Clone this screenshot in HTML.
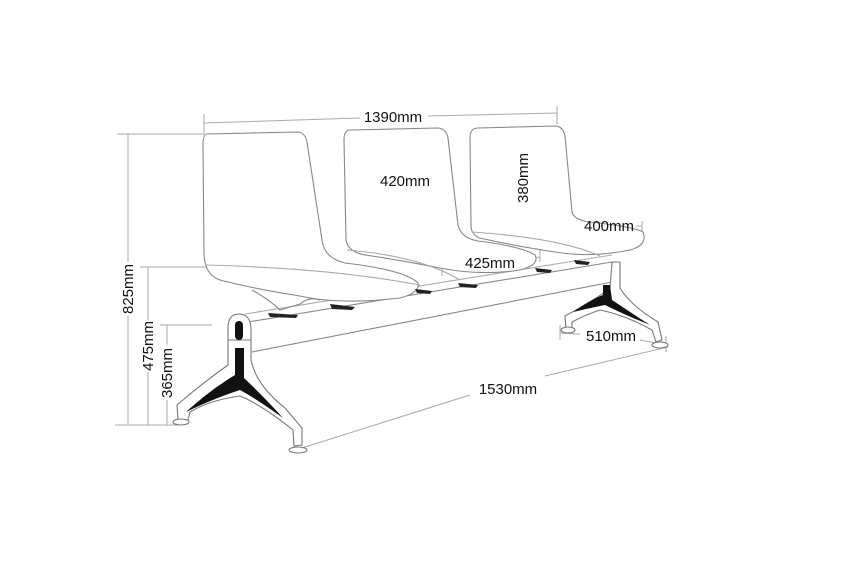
<!DOCTYPE html>
<html><head><meta charset="utf-8"><style>
html,body{margin:0;padding:0;background:#fff;}
svg{display:block;}
text{font-family:"Liberation Sans",sans-serif;font-size:15px;fill:#111;}
</style></head><body>
<svg width="850" height="564" viewBox="0 0 850 564" xmlns="http://www.w3.org/2000/svg">
<g fill="none" stroke="#aaa" stroke-width="1">
<line x1="204" y1="123" x2="360" y2="118"/><line x1="428" y1="116" x2="557" y2="113"/>
<line x1="204" y1="114" x2="204" y2="134"/><line x1="557" y1="106" x2="557" y2="124"/>
<line x1="117" y1="134" x2="204" y2="134"/>
<line x1="128" y1="134" x2="128" y2="262"/><line x1="128" y1="316" x2="128" y2="425"/>
<line x1="140" y1="267" x2="206" y2="267"/>
<line x1="148" y1="267" x2="148" y2="320"/><line x1="148" y1="372" x2="148" y2="425"/>
<line x1="160" y1="325" x2="212" y2="325"/>
<line x1="167" y1="325" x2="167" y2="345"/><line x1="167" y1="400" x2="167" y2="425"/>
<line x1="115" y1="425" x2="178" y2="425"/>
<line x1="350" y1="180" x2="376" y2="180"/><line x1="434" y1="180" x2="450" y2="180"/>
<line x1="519" y1="128" x2="528" y2="128"/><line x1="523" y1="128" x2="523" y2="150"/><line x1="523" y1="205" x2="523" y2="231"/><line x1="518" y1="231" x2="535" y2="231"/>
<line x1="572" y1="226" x2="580" y2="226"/><line x1="636" y1="226" x2="642" y2="226"/>
<line x1="572" y1="218" x2="572" y2="230"/><line x1="642" y1="221" x2="642" y2="235"/>
<line x1="442" y1="266" x2="460" y2="265"/><line x1="520" y1="259" x2="540" y2="257"/>
<line x1="442" y1="257" x2="442" y2="276"/><line x1="540" y1="245" x2="540" y2="262"/>
<line x1="560" y1="333" x2="580" y2="334"/><line x1="640" y1="340" x2="666" y2="345"/>
<line x1="560" y1="325" x2="560" y2="340"/><line x1="666" y1="336" x2="666" y2="352"/>
<line x1="302" y1="448" x2="470" y2="395"/><line x1="545" y1="376" x2="668" y2="347"/>
</g>
<g fill="#fff" stroke="#888" stroke-width="1.1">
<path d="M248,322 L612,262 M252,352 L612,282" fill="none"/>
<path d="M245,314 L612,255" fill="none" stroke="#aaa"/>
<path d="M478,128 L555,126 Q563,126 565,136 L572,212 Q574,220 590,222 Q635,227 643,232 Q648,245 630,250 Q590,258 555,252 Q510,245 480,238 Q471,235 471,225 L470,138 Q470,128 478,128 Z"/>
<path d="M472,232 Q560,238 600,256" fill="none" stroke="#aaa"/>
<path d="M350,130 L437,128 Q446,128 448,138 L458,225 Q461,238 478,241 Q520,246 535,255 Q540,265 520,270 Q480,276 440,268 Q400,260 365,255 Q348,252 346,240 L344,140 Q344,130 350,130 Z"/>
<path d="M347,250 Q420,256 460,280" fill="none" stroke="#aaa"/>
<path d="M207,134 L297,132 Q305,132 307,142 L322,240 Q324,258 345,263 Q405,270 418,283 Q420,293 400,298 Q340,305 300,296 Q250,288 220,280 Q205,275 204,255 L203,145 Q203,134 207,134 Z"/>
<path d="M205,265 Q330,268 420,285" fill="none" stroke="#aaa"/>
<path d="M252,290 Q270,300 280,310 L300,304 Q310,296 320,300" fill="none"/>
</g>
<g fill="#222">
<path d="M268,313 L298,315 L296,318 L270,317Z"/><path d="M330,304 L355,307 L352,310 L332,309Z"/>
<path d="M415,289 L432,291 L430,294 L417,293Z"/><path d="M458,283 L478,285 L476,288 L460,287Z"/>
<path d="M535,268 L552,270 L550,273 L537,272Z"/><path d="M574,260 L590,262 L588,265 L576,264Z"/>
</g>
<g stroke="#777" stroke-width="1.1" fill="#fff">
<path d="M228,328 Q228,314 239,314 Q250,314 251,328 L251,360 Q256,385 285,408 L302,428 L302,445 L294,446 L293,430 Q262,405 240,396 Q210,400 190,412 L188,420 L178,420 L177,405 Q200,385 228,365 Z"/>
<line x1="228" y1="340" x2="251" y2="340"/>
<ellipse cx="181" cy="422" rx="8" ry="3"/><ellipse cx="298" cy="450" rx="9" ry="3"/>
<path d="M612,262 L620,262 L620,288 Q630,305 658,322 L662,340 L656,342 L652,330 Q625,315 600,310 Q585,315 572,322 L572,330 L566,330 L565,316 Q595,300 610,288 Z"/>
<ellipse cx="568" cy="330" rx="7" ry="3"/><ellipse cx="660" cy="345" rx="8" ry="3"/>
</g>
<g fill="#111">
<rect x="235" y="321" width="8" height="19" rx="4"/>
<path d="M235,348 L244,348 L244,378 Q262,395 283,418 Q255,398 240,390 Q215,398 186,412 Q210,390 235,375 Z"/>
<path d="M603,285 L610,285 L612,300 Q630,312 650,325 Q625,315 605,305 Q590,308 573,312 Q590,300 603,295 Z"/>
</g>
<g>
<text x="393" y="122" text-anchor="middle">1390mm</text>
<text x="405" y="186" text-anchor="middle">420mm</text>
<text x="609" y="231" text-anchor="middle">400mm</text>
<text x="490" y="268" text-anchor="middle">425mm</text>
<text x="611" y="341" text-anchor="middle">510mm</text>
<text x="508" y="394" text-anchor="middle">1530mm</text>
<text transform="translate(528,178) rotate(-90)" text-anchor="middle">380mm</text>
<text transform="translate(133,289) rotate(-90)" text-anchor="middle">825mm</text>
<text transform="translate(153,346) rotate(-90)" text-anchor="middle">475mm</text>
<text transform="translate(172,373) rotate(-90)" text-anchor="middle">365mm</text>
</g>
</svg>
</body></html>
